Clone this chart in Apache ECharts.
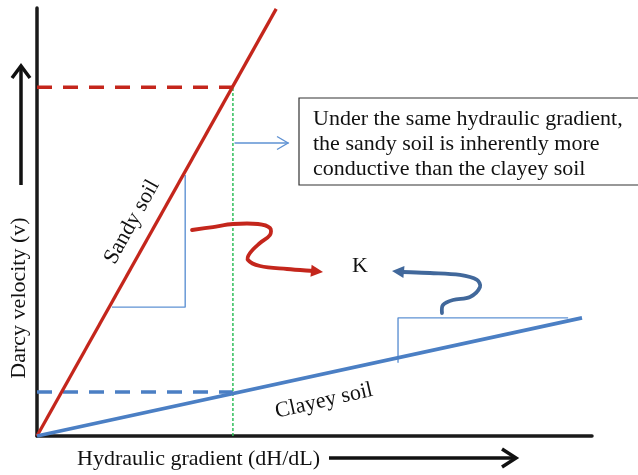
<!DOCTYPE html>
<html>
<head>
<meta charset="utf-8">
<script src="https://cdn.jsdelivr.net/npm/echarts@6/dist/echarts.min.js"></script>
<style>html,body{margin:0;padding:0;background:#fff}#c{width:638px;height:475px}</style>
</head>
<body>
<div id="c"></div>
<script>
// ---- data (conceptual units: x = hydraulic gradient, y = Darcy velocity) ----
const sandyX = [0, 4.31];
const sandyY = [0, 9.98];
const clayeyX = [0, 9.82];
const clayeyY = [0, 2.76];
const gradientX = 3.53;
const sandyV = 8.15;
const clayeyV = 1.03;
const sandyTriX = [1.35, 2.67, 2.67];
const sandyTriY = [3.01, 3.01, 6.10];
const clayeyTriX = [6.505, 6.505, 9.57];
const clayeyTriY = [1.71, 2.76, 2.76];
const redCurveX = [2.793, 3.171, 3.532, 3.982, 4.198, 4.198, 4.018, 3.838, 3.802, 4.018, 4.505, 4.973, 5.153];
const redCurveY = [4.813, 4.883, 4.953, 4.953, 4.860, 4.696, 4.509, 4.276, 4.112, 3.972, 3.902, 3.855, 3.832];
const blueCurveX = [7.297, 7.315, 7.495, 7.802, 7.982, 7.928, 7.622, 7.081, 6.595, 6.396];
const blueCurveY = [2.874, 3.061, 3.178, 3.248, 3.481, 3.645, 3.762, 3.808, 3.832, 3.855];
const pointerX = [3.568, 4.523];
const pointerY = [6.846, 6.846];
const boxLines = ['Under the same hydraulic gradient,', 'the sandy soil is inherently more', 'conductive than the clayey soil'];
const xTitle = 'Hydraulic gradient (dH/dL)';
const yTitle = 'Darcy velocity (v)';

const zip = (xs, ys) => xs.map((x, i) => [x, ys[i]]);
const FONT = '22px "Liberation Serif", "Times New Roman", serif';

function lineS(xs, ys, color, width, type, z) {
  return {type: 'line', data: zip(xs, ys), showSymbol: false, symbol: 'none', silent: true, z: z || 3,
    lineStyle: {color: color, width: width, type: type || 'solid', cap: 'butt'}};
}
function arrowS(xs, ys, color, width, head) {
  return {
    type: 'custom', coordinateSystem: 'cartesian2d', silent: true, z: 6,
    data: [[xs[0], ys[0]]],
    renderItem: function (params, api) {
      const pts = xs.map((x, i) => api.coord([x, ys[i]]));
      const tip = pts[pts.length - 1], prev = pts[pts.length - 2];
      const dx = tip[0] - prev[0], dy = tip[1] - prev[1];
      const len = Math.hypot(dx, dy), ux = dx / len, uy = dy / len;
      const base = [tip[0] - ux * head.len, tip[1] - uy * head.len];
      const p1 = [base[0] - uy * head.w, base[1] + ux * head.w];
      const p2 = [base[0] + uy * head.w, base[1] - ux * head.w];
      const linePts = head.open ? pts : pts.slice(0, -1).concat([base]);
      const children = [{type: 'polyline', shape: {points: linePts, smooth: head.smooth || 0},
        style: {stroke: color, lineWidth: width, fill: null, lineCap: 'round'}}];
      if (head.open) {
        children.push({type: 'polyline', shape: {points: [p1, tip, p2]}, style: {stroke: color, lineWidth: width, fill: null}});
      } else {
        children.push({type: 'polygon', shape: {points: [tip, p1, p2]}, style: {fill: color}});
      }
      return {type: 'group', children: children};
    }
  };
}

const RED = '#c4261c', BLUE = '#4b7fc4', THIN = '#5f92d3', GREEN = '#2fbf5a';

const option = {
  animation: false,
  backgroundColor: '#fff',
  grid: {left: 37, right: 46, top: 8, bottom: 39},
  xAxis: {type: 'value', min: 0, max: 10, axisLine: {show: true, lineStyle: {color: '#1a1a1a', width: 3.5}},
    axisTick: {show: false}, axisLabel: {show: false}, splitLine: {show: false}},
  yAxis: {type: 'value', min: 0, max: 10, axisLine: {show: true, lineStyle: {color: '#1a1a1a', width: 3.5}},
    axisTick: {show: false}, axisLabel: {show: false}, splitLine: {show: false}},
  series: [
    lineS([0, gradientX], [sandyV, sandyV], RED, 3.5, [15, 11], 2),
    lineS([0, gradientX], [clayeyV, clayeyV], BLUE, 3.5, [15, 11], 2),
    lineS([gradientX, gradientX], [0, sandyV], GREEN, 1.5, [3, 2], 2),
    lineS(sandyTriX, sandyTriY, THIN, 1.4, 'solid', 2),
    lineS(clayeyTriX, clayeyTriY, THIN, 1.4, 'solid', 2),
    lineS(sandyX, sandyY, RED, 3.3, 'solid', 4),
    lineS(clayeyX, clayeyY, BLUE, 3.8, 'solid', 4),
    arrowS(redCurveX, redCurveY, RED, 3.8, {len: 12, w: 6, smooth: 0.35}),
    arrowS(blueCurveX, blueCurveY, '#41689b', 3.8, {len: 12, w: 6, smooth: 0.35}),
    arrowS(pointerX, pointerY, THIN, 1.4, {len: 11, w: 6.5, open: true})
  ],
  graphic: {elements: [
    {type: 'rect', shape: {x: 299, y: 98, width: 350, height: 87}, style: {fill: '#fff', stroke: '#333', lineWidth: 1.2}, z: 10},
    {type: 'text', x: 313, y: 119, style: {text: boxLines[0], font: FONT, fill: '#111', align: 'left', verticalAlign: 'middle'}, z: 11},
    {type: 'text', x: 313, y: 144, style: {text: boxLines[1], font: FONT, fill: '#111', align: 'left', verticalAlign: 'middle'}, z: 11},
    {type: 'text', x: 313, y: 169, style: {text: boxLines[2], font: FONT, fill: '#111', align: 'left', verticalAlign: 'middle'}, z: 11},
    {type: 'text', x: 132, y: 222, rotation: 61 * Math.PI / 180, style: {text: 'Sandy soil', font: FONT, fill: '#111', align: 'center', verticalAlign: 'middle'}, z: 11},
    {type: 'text', x: 324, y: 401, rotation: 13 * Math.PI / 180, style: {text: 'Clayey soil', font: FONT, fill: '#111', align: 'center', verticalAlign: 'middle'}, z: 11},
    {type: 'text', x: 360, y: 266, style: {text: 'K', font: FONT, fill: '#111', align: 'center', verticalAlign: 'middle'}, z: 11},
    {type: 'text', x: 19, y: 298, rotation: Math.PI / 2, style: {text: yTitle, font: FONT, fill: '#111', align: 'center', verticalAlign: 'middle'}, z: 11},
    {type: 'text', x: 77, y: 459, style: {text: xTitle, font: FONT, fill: '#111', align: 'left', verticalAlign: 'middle'}, z: 11},
    {type: 'polyline', shape: {points: [[21, 185], [21, 67]]}, style: {stroke: '#111', lineWidth: 3.5}, z: 11},
    {type: 'polyline', shape: {points: [[12, 78], [21, 66], [30, 78]]}, style: {stroke: '#111', lineWidth: 3.5, fill: null}, z: 11},
    {type: 'polyline', shape: {points: [[329, 458], [515, 458]]}, style: {stroke: '#111', lineWidth: 3.5}, z: 11},
    {type: 'polyline', shape: {points: [[502, 449], [516, 458], [502, 467]]}, style: {stroke: '#111', lineWidth: 3.5, fill: null}, z: 11}
  ]}
};
echarts.init(document.getElementById('c'), null, {renderer: 'canvas'}).setOption(option);
</script>
</body>
</html>
